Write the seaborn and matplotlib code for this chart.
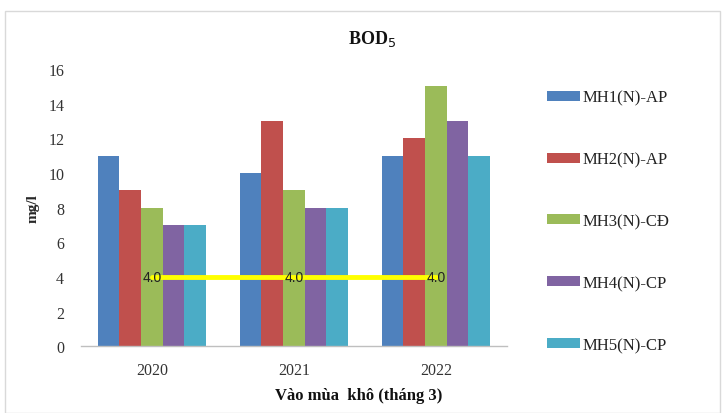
import matplotlib
matplotlib.use("Agg")
import matplotlib.pyplot as plt
from matplotlib.patches import Patch, Rectangle
import seaborn as sns
import pandas as pd

years = ["2020", "2021", "2022"]
sites = ["MH1(N)-AP", "MH2(N)-AP", "MH3(N)-CĐ", "MH4(N)-CP", "MH5(N)-CP"]
mh1 = [11, 10, 11]
mh2 = [9, 13, 12]
mh3 = [8, 9, 15]
mh4 = [7, 8, 13]
mh5 = [7, 8, 11]
limit = [4.0, 4.0, 4.0]
colors = ["#4F81BD", "#C0504D", "#9BBB59", "#8064A2", "#4BACC6"]

series = [mh1, mh2, mh3, mh4, mh5]
df = pd.DataFrame(
    [(y, s, v[i]) for s, v in zip(sites, series) for i, y in enumerate(years)],
    columns=["year", "site", "value"],
)

sns.set_theme(style="white")
plt.rcParams["font.family"] = ["Liberation Serif", "DejaVu Serif"]

fig = plt.figure(figsize=(7.22, 4.14), dpi=100)
fig.patches.append(Rectangle((0.007, 0.0), 0.99, 0.972, transform=fig.transFigure,
                             fill=False, edgecolor="#D9D9D9", linewidth=1))
ax = fig.add_axes([0.112, 0.161, 0.590, 0.670])

sns.barplot(data=df, x="year", y="value", hue="site", palette=colors,
            saturation=1, width=0.76, gap=0, ax=ax, legend=False, linewidth=0)

xpos = list(range(len(years)))
ax.plot(xpos, limit, color="#FFFF00", linewidth=3.5, zorder=5)
for x, v in zip(xpos, limit):
    ax.text(x, v, f"{v:.1f}", ha="center", va="center", fontsize=10,
            family=["Liberation Sans", "DejaVu Sans"], color="#222222", zorder=6)

ax.set_ylim(0, 16)
ax.set_yticks(range(0, 17, 2))
ax.set_xlim(-0.5, 2.5)
ax.set_xlabel("")
ax.set_ylabel("mg/l", fontsize=11, fontweight="bold", labelpad=6)
ax.tick_params(axis="both", length=0, labelsize=11.5, colors="#333333")
ax.tick_params(axis="x", pad=11)
ax.tick_params(axis="y", pad=12)
for side in ["top", "right", "left"]:
    ax.spines[side].set_visible(False)
ax.spines["bottom"].set_color("#BFBFBF")
ax.spines["bottom"].set_linewidth(1)

fig.text(0.515, 0.907, r"BOD$_5$", ha="center", va="center", fontsize=13,
         fontweight="bold", color="#111111")
fig.text(0.497, 0.043, "Vào mùa  khô (tháng 3)", ha="center", va="center",
         fontsize=12, fontweight="bold", color="#111111")

handles = [Patch(facecolor=c, edgecolor="none") for c in colors]
fig.legend(handles, sites, loc="center left", bbox_to_anchor=(0.737, 0.463),
           frameon=False, fontsize=12, handlelength=2.0, handleheight=0.55,
           handletextpad=0.1, labelspacing=2.75, labelcolor="#222222")

fig.savefig("out.png", dpi=100)
